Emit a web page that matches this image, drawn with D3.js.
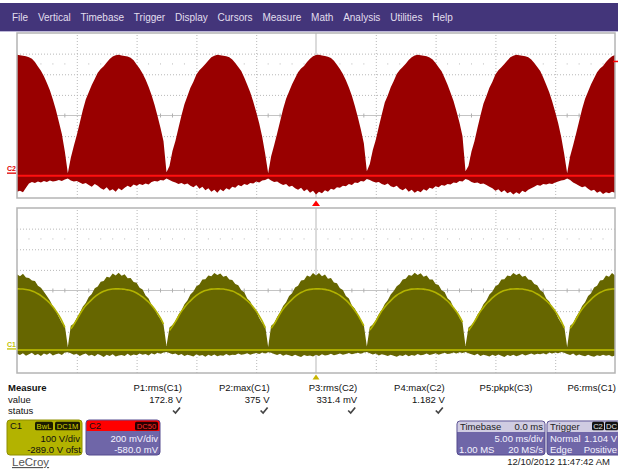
<!DOCTYPE html>
<html><head><meta charset="utf-8">
<script src="https://cdn.jsdelivr.net/npm/d3@7"></script>
<style>
html,body{margin:0;padding:0;background:#fff;overflow:hidden;}
svg{display:block;font-family:"Liberation Sans",Arial,sans-serif;}
</style></head><body>
<svg id="c" width="618" height="472"></svg>
<script>
// ---------------- DATA ----------------
const menuItems = ["File","Vertical","Timebase","Trigger","Display","Cursors","Measure","Math","Analysis","Utilities","Help"];
const timeDivisions = [-25,-20,-15,-10,-5,0,5,10,15,20,25];          // ms, 5 ms/div
const c2Divisions = [-220,-20,180,380,580,780,980,1180,1380];          // mV, 200 mV/div, offset -580 mV
const c1Divisions = [-111,-11,89,189,289,389,489,589,689];             // V, 100 V/div, offset -289 V
const triggerTimeMs = 0;
const triggerLevelMv = 1104;
const sampleTimeMs = d3.range(-25, 25.0001, 0.25);                     // acquisition grid

const c2UpperMv = [
1170,1165,1160,1155,1145,1130,1100,1055,1015,960,
895,825,735,635,520,400,230,20,170,285,
390,510,630,735,805,875,935,995,1030,1058,
1095,1127,1152,1164,1168,1163,1157,1151,1140,1115,
1075,1035,988,928,860,780,685,575,460,330,
30,90,235,335,460,580,690,770,848,908,
978,1020,1049,1079,1114,1144,1160,1170,1165,1160,
1155,1144,1123,1088,1050,1012,948,878,805,715,
615,505,375,210,20,185,292,405,525,642,
742,812,882,942,1000,1036,1060,1100,1130,1155,
1166,1168,1163,1158,1150,1138,1110,1072,1032,982,
922,852,772,673,562,444,310,40,110,245,
345,470,590,705,775,855,915,982,1022,1051,
1082,1117,1146,1161,1170,1165,1160,1155,1143,1123,
1088,1049,1008,946,878,800,720,620,510,380,
40,90,230,330,460,580,695,770,848,908,
978,1020,1049,1079,1114,1144,1160,1170,1165,1160,
1155,1144,1123,1088,1050,1012,948,878,805,715,
615,505,375,210,20,185,292,405,525,642,
742,812,882,942,1000,1036,1060,1100,1130,1155,
1166];
const c2LowerMv = [
-160,-150,-165,-120,-80,-65,-75,-60,-70,-55,
-65,-50,-60,-55,-45,-55,-40,-30,-50,-60,
-55,-70,-85,-75,-95,-110,-85,-100,-125,-140,
-115,-150,-135,-160,-125,-145,-120,-100,-115,-90,
-100,-85,-95,-80,-90,-65,-55,-60,-45,-50,
-30,-45,-60,-70,-85,-75,-90,-80,-100,-115,
-95,-130,-110,-145,-125,-160,-140,-170,-135,-155,
-125,-140,-110,-120,-95,-105,-85,-95,-75,-80,
-60,-70,-50,-45,-30,-50,-65,-60,-80,-95,
-85,-110,-100,-125,-140,-120,-155,-135,-170,-150,
-185,-160,-175,-145,-160,-130,-140,-115,-120,-100,
-105,-85,-95,-70,-75,-55,-60,-35,-45,-60,
-70,-65,-85,-95,-80,-105,-115,-100,-130,-145,
-125,-160,-140,-170,-150,-165,-135,-150,-120,-130,
-105,-115,-95,-100,-85,-90,-70,-75,-55,-60,
-35,-45,-65,-75,-70,-85,-80,-95,-110,-125,
-150,-135,-165,-145,-175,-160,-185,-165,-180,-150,
-165,-140,-125,-110,-95,-100,-85,-90,-80,-85,
-70,-60,-50,-45,-30,-45,-70,-85,-100,-115,
-105,-130,-150,-140,-170,-155,-180,-165,-175,-160,
-170];
const c1UpperV = [
368,358,370,352,350,338,335,312,302,283,
262,240,212,190,160,133,118,15,118,128,
156,180,210,228,258,272,300,308,332,335,
356,352,372,362,375,360,368,348,350,330,
326,302,294,265,250,220,202,172,150,124,
20,110,122,140,172,192,222,240,270,284,
310,318,342,344,362,358,374,364,372,356,
360,342,340,320,314,290,280,250,236,206,
188,156,132,118,15,118,130,160,184,214,
232,262,276,304,312,338,340,362,356,374,
362,374,358,366,346,350,328,324,300,292,
262,250,216,200,168,146,122,18,112,124,
143,174,194,224,242,270,286,310,320,342,
346,364,360,375,364,373,356,362,342,342,
320,316,290,282,252,238,206,190,156,134,
20,110,122,140,172,192,222,240,270,284,
310,318,342,344,362,358,374,364,372,356,
360,342,340,320,314,290,280,250,236,206,
188,156,132,118,15,118,130,160,184,214,
232,262,276,304,312,338,340,362,356,374,
362];
const c1MeanV = [
297,296.5,296,294,291,287,281,273,264,253,
241,227,210,190,168,142,110,null,103,124,
148,174,197,216,231,245,258,269,278,285,
290.5,294,296,297,297,296,295,292,289,284,
277,268,258,246,233,217,199,178,155,126,
null,95,115,138,163,188,207,225,239,253,
265,275,283,289,293,295.5,296.5,297,296.5,296,
293.5,290.5,286,280,272,263,252,240,226,208,
189,166,140,108,null,106,126,151,177,199,
217,232,246,259,270,279,286,291,294.5,296,
297,297,296,294.5,291,287,281,274,265,254,
242,228,211,192,171,145,118,null,97,117,
140,166,190,209,226,240,254,266,275,283,
289,293,295.5,296.5,297,296.5,295.5,293,290,285,
279,271,262,250,238,223,205,186,163,136,
null,95,115,138,163,188,207,225,239,253,
265,275,283,289,293,295.5,296.5,297,296.5,296,
293.5,290.5,286,280,272,263,252,240,226,208,
189,166,140,108,null,106,126,151,177,199,
217,232,246,259,270,279,286,291,294.5,296,
297];
const c1LowerV = [
-18,-24,-15,-27,-20,-13,-25,-19,-29,-16,
-22,-14,-26,-20,-17,-24,-12,-10,-15,-22,
-18,-28,-21,-16,-27,-23,-30,-19,-25,-33,
-22,-28,-20,-31,-26,-24,-29,-18,-27,-21,
-25,-17,-23,-19,-26,-15,-21,-13,-18,-11,
-9,-14,-20,-17,-25,-19,-28,-22,-26,-31,
-20,-27,-24,-32,-23,-29,-21,-30,-25,-27,
-19,-26,-22,-24,-17,-23,-20,-15,-22,-18,
-14,-19,-12,-16,-10,-13,-19,-24,-18,-27,
-21,-25,-30,-22,-28,-33,-24,-29,-26,-31,
-23,-28,-20,-26,-24,-18,-25,-21,-16,-23,
-19,-14,-20,-17,-13,-18,-11,-9,-15,-21,
-17,-26,-20,-24,-29,-22,-27,-32,-25,-28,
-21,-30,-24,-27,-19,-25,-22,-17,-24,-20,
-15,-22,-18,-13,-19,-16,-12,-17,-10,-14,
-9,-15,-20,-25,-18,-28,-22,-26,-31,-23,
-29,-21,-27,-33,-24,-28,-22,-30,-25,-19,
-26,-21,-16,-23,-18,-20,-15,-21,-12,-17,
-11,-15,-9,-13,-19,-24,-17,-27,-21,-26,
-30,-23,-28,-32,-25,-29,-22,-27,-24,-31,
-26];

const measureRowLabels = ["Measure","value","status"];
const paramNames  = ["P1:rms(C1)","P2:max(C1)","P3:rms(C2)","P4:max(C2)","P5:pkpk(C3)","P6:rms(C1)"];
const paramValues = ["172.8 V","375 V","331.4 mV","1.182 V","",""];
const paramStatus = [true,true,true,true,false,false];

const c1Info = {name:"C1", tags:["BwL","DC1M"], scale:"100 V/div", offset:"-289.0 V ofst"};
const c2Info = {name:"C2", tags:["DC50"], scale:"200 mV/div", offset:"-580.0 mV"};
const timebaseInfo = {title:"Timebase", delay:"0.0 ms", scale:"5.00 ms/div", points:"1.00 MS", rate:"20 MS/s"};
const triggerInfo = {title:"Trigger", tags:["C2","DC"], mode:"Normal", level:"1.104 V", type:"Edge", slope:"Positive"};
const dateText = "12/10/2012 11:47:42 AM";
const brand = "LeCroy";

// ---------------- DRAWING ----------------
const W = 618, H = 472;
const svg = d3.select("#c");
const plotL = 17, plotR = 615;
const topP = {top:33, bottom:198}, botP = {top:208, bottom:373};

const x = d3.scaleLinear().domain(d3.extent(timeDivisions)).range([plotL, plotR]);
const yC2 = d3.scaleLinear().domain(d3.extent(c2Divisions)).range([topP.bottom, topP.top]);
const yC1 = d3.scaleLinear().domain(d3.extent(c1Divisions)).range([botP.bottom, botP.top]);

// menu bar
svg.append("rect").attr("x",0).attr("y",3).attr("width",W).attr("height",28).attr("fill","#43357a");
svg.append("rect").attr("x",0).attr("y",31).attr("width",W).attr("height",1).attr("fill","#bdb7d8");
let mx = 12;
menuItems.forEach(m => {
  const t = svg.append("text").attr("x",mx).attr("y",21).attr("fill","#e2dfee").attr("font-size",10).text(m);
  mx += t.node().getComputedTextLength() + 9.8;
});

function drawPanel(P, yScale, divs, id) {
  const g = svg.append("g");
  const inner = timeDivisions.slice(1,-1);
  const innerV = divs.slice(1,-1);
  const centerT = timeDivisions[(timeDivisions.length-1)/2];
  const centerV = divs[(divs.length-1)/2];
  const gx = g.append("g").attr("transform",`translate(0,${P.bottom})`)
    .call(d3.axisBottom(x).tickValues(inner.filter(t=>t!==centerT)).tickSize(-(P.bottom-P.top)).tickFormat(""));
  gx.select(".domain").remove();
  gx.selectAll("line").attr("stroke","#b8b8b8").attr("stroke-dasharray","1,2");
  const gy = g.append("g").attr("transform",`translate(${plotL},0)`)
    .call(d3.axisLeft(yScale).tickValues(innerV.filter(v=>v!==centerV)).tickSize(-(plotR-plotL)).tickFormat(""));
  gy.select(".domain").remove();
  gy.selectAll("line").attr("stroke","#b8b8b8").attr("stroke-dasharray","1,2");
  g.append("line").attr("x1",x(centerT)).attr("x2",x(centerT)).attr("y1",P.top).attr("y2",P.bottom)
    .attr("stroke","#cfcfcf").attr("stroke-width",1.5);
  g.append("line").attr("x1",plotL).attr("x2",plotR).attr("y1",yScale(centerV)).attr("y2",yScale(centerV))
    .attr("stroke","#c4c4c4").attr("stroke-width",1);
  const minor = [];
  for (let k=0;k<timeDivisions.length-1;k++) for (let j=1;j<5;j++)
    minor.push(timeDivisions[k] + (timeDivisions[k+1]-timeDivisions[k])*j/5);
  g.selectAll(".mt").data(minor).join("line")
    .attr("x1",d=>x(d)).attr("x2",d=>x(d))
    .attr("y1",yScale(centerV)-2).attr("y2",yScale(centerV)+2).attr("stroke","#b0b0b0");
  const rowV = (divs[divs.length-2]+divs[divs.length-3])/2;
  g.selectAll(".md").data(minor).join("rect")
    .attr("x",d=>x(d)-0.5).attr("y",yScale(rowV)-0.5).attr("width",1).attr("height",1).attr("fill","#b8b8b8");
  svg.append("clipPath").attr("id",id).append("rect")
    .attr("x",plotL).attr("y",P.top).attr("width",plotR-plotL).attr("height",P.bottom-P.top);
  return g;
}

// ----- top panel (C2) -----
drawPanel(topP, yC2, c2Divisions, "clipTop");
const c2Data = sampleTimeMs.map((t,i)=>({t, hi:c2UpperMv[i], lo:c2LowerMv[i]}));
const wTop = svg.append("g").attr("clip-path","url(#clipTop)");
wTop.append("path").datum(c2Data).attr("fill","#990000")
  .attr("d", d3.area().x(d=>x(d.t)).y0(yC2(0)).y1(d=>yC2(d.hi)).curve(d3.curveLinear));
wTop.append("path").datum(c2Data).attr("fill","#990000")
  .attr("d", d3.area().x(d=>x(d.t)).y0(yC2(0)).y1(d=>yC2(d.lo)).curve(d3.curveLinear));
wTop.append("line").attr("x1",plotL).attr("x2",plotR).attr("y1",yC2(0)+0.5).attr("y2",yC2(0)+0.5)
  .attr("stroke","#ff1010").attr("stroke-width",2);
svg.append("rect").attr("x",plotL).attr("y",topP.top).attr("width",plotR-plotL).attr("height",topP.bottom-topP.top)
  .attr("fill","none").attr("stroke","#b4b4b4").attr("stroke-width",1.5);
svg.append("text").attr("x",7).attr("y",171).attr("fill","#e00000").attr("font-size",7).attr("font-weight","bold").text(c2Info.name);
svg.append("rect").attr("x",7).attr("y",172.5).attr("width",9).attr("height",1.3).attr("fill","#e00000");
svg.append("line").attr("x1",613).attr("x2",618).attr("y1",yC2(triggerLevelMv)).attr("y2",yC2(triggerLevelMv))
  .attr("stroke","#ff0000").attr("stroke-width",1.5);
const tx = x(triggerTimeMs);
svg.append("path").attr("d",`M${tx-4},206 L${tx+4},206 L${tx},200.5 Z`).attr("fill","#ff0000");

// ----- bottom panel (C1) -----
drawPanel(botP, yC1, c1Divisions, "clipBot");
const c1Data = sampleTimeMs.map((t,i)=>({t, hi:c1UpperV[i], lo:c1LowerV[i], m:c1MeanV[i]}));
const wBot = svg.append("g").attr("clip-path","url(#clipBot)");
wBot.append("path").datum(c1Data).attr("fill","#666600")
  .attr("d", d3.area().x(d=>x(d.t)).y0(yC1(0)).y1(d=>yC1(d.hi)).curve(d3.curveLinear));
wBot.append("path").datum(c1Data).attr("fill","#666600")
  .attr("d", d3.area().x(d=>x(d.t)).y0(yC1(0)).y1(d=>yC1(d.lo)).curve(d3.curveLinear));
wBot.append("path").datum(c1Data).attr("fill","none").attr("stroke","#b3b300").attr("stroke-width",1.6)
  .attr("d", d3.line().defined(d=>d.m!==null).x(d=>x(d.t)).y(d=>yC1(d.m)).curve(d3.curveMonotoneX));
wBot.append("line").attr("x1",plotL).attr("x2",plotR).attr("y1",yC1(0)).attr("y2",yC1(0))
  .attr("stroke","#aaaa00").attr("stroke-width",2);
svg.append("rect").attr("x",plotL).attr("y",botP.top).attr("width",plotR-plotL).attr("height",botP.bottom-botP.top)
  .attr("fill","none").attr("stroke","#b4b4b4").attr("stroke-width",1.5);
svg.append("text").attr("x",7).attr("y",346.5).attr("fill","#c2c200").attr("font-size",7).attr("font-weight","bold").text(c1Info.name);
svg.append("rect").attr("x",7).attr("y",348.3).attr("width",9).attr("height",1.3).attr("fill","#c2c200");
svg.append("path").attr("d",`M${tx-3.5},379.5 L${tx+3.5},379.5 L${tx},374.5 Z`).attr("fill","#c8b400");

// ----- measure table -----
const fs = 9.5;
const rowY = [390.5, 402.5, 414];
measureRowLabels.forEach((l,i)=>{
  svg.append("text").attr("x",8).attr("y",rowY[i]).attr("font-size",fs).attr("fill","#111")
    .attr("font-weight", i===0?"bold":"normal").text(l);
});
const colRight = k => Math.min(182 + 87.6*k, 616);
paramNames.forEach((p,k)=>{
  svg.append("text").attr("x",colRight(k)).attr("y",rowY[0]).attr("text-anchor","end").attr("font-size",fs).attr("fill","#111").text(p);
  if (paramValues[k]) svg.append("text").attr("x",colRight(k)).attr("y",rowY[1]).attr("text-anchor","end").attr("font-size",fs).attr("fill","#111").text(paramValues[k]);
  if (paramStatus[k]) svg.append("path").attr("d",`M${colRight(k)-9},${410.5} L${colRight(k)-6.5},${413} L${colRight(k)-2},${407.5}`)
    .attr("fill","none").attr("stroke","#444").attr("stroke-width",1.7);
});

// ----- channel boxes -----
function tag(xx, w, label, bg, fg) {
  svg.append("rect").attr("x",xx).attr("y",421.8).attr("width",w).attr("height",8.4).attr("rx",1.5).attr("fill",bg);
  svg.append("text").attr("x",xx+w/2).attr("y",429).attr("text-anchor","middle").attr("font-size",7.6).attr("fill",fg).text(label);
}
svg.append("rect").attr("x",7).attr("y",420).attr("width",75).attr("height",35).attr("rx",3)
  .attr("fill","#b3b300").attr("stroke","#8e8e00");
svg.append("text").attr("x",10).attr("y",428.8).attr("font-size",fs).attr("fill","#111").text(c1Info.name);
tag(35,18,c1Info.tags[0],"#1c1c00","#d4d400");
tag(55,25,c1Info.tags[1],"#1c1c00","#d4d400");
svg.append("text").attr("x",80).attr("y",441.5).attr("text-anchor","end").attr("font-size",fs).attr("fill","#111").text(c1Info.scale);
svg.append("text").attr("x",81).attr("y",452.5).attr("text-anchor","end").attr("font-size",fs).attr("fill","#111").text(c1Info.offset);
svg.append("rect").attr("x",86).attr("y",420).attr("width",74).attr("height",35).attr("rx",3)
  .attr("fill","#6f66a8").attr("stroke","#544b8e");
svg.append("path").attr("d","M86.5,431 L86.5,423 Q86.5,420.5 89,420.5 L157,420.5 Q159.5,420.5 159.5,423 L159.5,431 Z").attr("fill","#ff0000");
svg.append("text").attr("x",89).attr("y",428.8).attr("font-size",fs).attr("fill","#111").text(c2Info.name);
tag(135,23,c2Info.tags[0],"#2a0000","#ff2a2a");
svg.append("text").attr("x",158).attr("y",441.5).attr("text-anchor","end").attr("font-size",fs).attr("fill","#f4f2ff").text(c2Info.scale);
svg.append("text").attr("x",158).attr("y",452.5).attr("text-anchor","end").attr("font-size",fs).attr("fill","#f4f2ff").text(c2Info.offset);
svg.append("rect").attr("x",457).attr("y",421).attr("width",88).attr("height",34).attr("rx",3)
  .attr("fill","#6f66a8").attr("stroke","#544b8e");
svg.append("path").attr("d","M457.5,432 L457.5,424 Q457.5,421.5 460,421.5 L542,421.5 Q544.5,421.5 544.5,424 L544.5,432 Z").attr("fill","#d0cce2");
svg.append("text").attr("x",460).attr("y",429.8).attr("font-size",fs).attr("fill","#222").text(timebaseInfo.title);
svg.append("text").attr("x",543).attr("y",429.8).attr("text-anchor","end").attr("font-size",fs).attr("fill","#222").text(timebaseInfo.delay);
svg.append("text").attr("x",543).attr("y",441.5).attr("text-anchor","end").attr("font-size",fs).attr("fill","#f4f2ff").text(timebaseInfo.scale);
svg.append("text").attr("x",459).attr("y",452.5).attr("font-size",fs).attr("fill","#f4f2ff").text(timebaseInfo.points);
svg.append("text").attr("x",543).attr("y",452.5).attr("text-anchor","end").attr("font-size",fs).attr("fill","#f4f2ff").text(timebaseInfo.rate);
svg.append("rect").attr("x",547).attr("y",421).attr("width",76).attr("height",34).attr("rx",3)
  .attr("fill","#6f66a8").attr("stroke","#544b8e");
svg.append("path").attr("d","M547.5,432 L547.5,424 Q547.5,421.5 550,421.5 L622,421.5 L622,432 Z").attr("fill","#d0cce2");
svg.append("text").attr("x",550).attr("y",429.8).attr("font-size",fs).attr("fill","#222").text(triggerInfo.title);
tag(592,12,triggerInfo.tags[0],"#111","#e8e8e8");
tag(605,13,triggerInfo.tags[1],"#111","#e8e8e8");
svg.append("text").attr("x",550).attr("y",441.5).attr("font-size",fs).attr("fill","#f4f2ff").text(triggerInfo.mode);
svg.append("text").attr("x",617).attr("y",441.5).attr("text-anchor","end").attr("font-size",fs).attr("fill","#f4f2ff").text(triggerInfo.level);
svg.append("text").attr("x",617).attr("y",452.5).attr("text-anchor","end").attr("font-size",fs).attr("fill","#f4f2ff").text(triggerInfo.slope);
svg.append("text").attr("x",550).attr("y",452.5).attr("font-size",fs).attr("fill","#f4f2ff").text(triggerInfo.type);

svg.append("text").attr("x",610).attr("y",464.5).attr("text-anchor","end").attr("font-size",fs).attr("fill","#222").text(dateText);
svg.append("text").attr("x",12).attr("y",466).attr("font-size",11.5).attr("fill","#555").attr("text-decoration","underline").text(brand);
</script>
</body></html>
